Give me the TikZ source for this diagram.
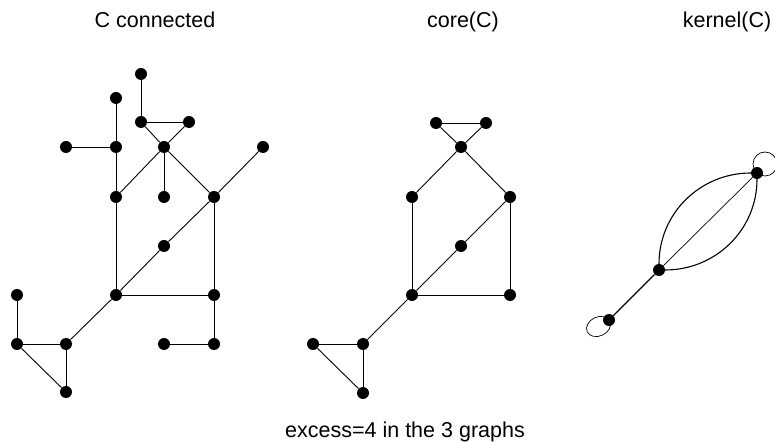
\documentclass[tikz,border=0pt]{standalone}
\usepackage{fontspec}
\setmainfont{Liberation Sans}
\begin{document}
\begin{tikzpicture}[x=1pt,y=1pt,
  dot/.style={circle,fill=black,inner sep=0pt,minimum size=12pt},
  edge/.style={line width=0.9pt,black},
  label/.style={anchor=base,inner sep=0pt,font=\fontsize{21.5}{26}\selectfont}]
\useasboundingbox (0,0) rectangle (775,441);

% titles
\node[label] (t1) at (155,413) {C connected};
\node[label] (t2) at (463,413) {core(C)};
\node[label] (t3) at (727,413) {kernel(C)};
\node[label] (t4) at (405,4) {excess=4 in the 3 graphs};

% connected graph C
\node[dot] (L1) at (141,367) {};
\node[dot] (L2) at (116,343) {};
\node[dot] (L3) at (141,319) {};
\node[dot] (L4) at (189,319) {};
\node[dot] (L5) at (66,294) {};
\node[dot] (L6) at (116,294) {};
\node[dot] (L7) at (164,294) {};
\node[dot] (L8) at (263,294) {};
\node[dot] (L9) at (116,244) {};
\node[dot] (L10) at (164,244) {};
\node[dot] (L11) at (214,244) {};
\node[dot] (L12) at (164,195) {};
\node[dot] (L13) at (17,146) {};
\node[dot] (L14) at (116,146) {};
\node[dot] (L15) at (214,146) {};
\node[dot] (L16) at (17,97) {};
\node[dot] (L17) at (66,97) {};
\node[dot] (L18) at (164,97) {};
\node[dot] (L19) at (214,97) {};
\node[dot] (L20) at (66,49) {};

\draw[edge] (L1) -- (L3);
\draw[edge] (L2) -- (L6);
\draw[edge] (L3) -- (L4);
\draw[edge] (L3) -- (L7);
\draw[edge] (L4) -- (L7);
\draw[edge] (L5) -- (L6);
\draw[edge] (L6) -- (L9);
\draw[edge] (L7) -- (L9);
\draw[edge] (L7) -- (L10);
\draw[edge] (L7) -- (L11);
\draw[edge] (L8) -- (L11);
\draw[edge] (L9) -- (L14);
\draw[edge] (L11) -- (L12);
\draw[edge] (L12) -- (L14);
\draw[edge] (L11) -- (L15);
\draw[edge] (L14) -- (L15);
\draw[edge] (L15) -- (L19);
\draw[edge] (L18) -- (L19);
\draw[edge] (L14) -- (L17);
\draw[edge] (L13) -- (L16);
\draw[edge] (L16) -- (L17);
\draw[edge] (L16) -- (L20);
\draw[edge] (L17) -- (L20);

% core(C)
\node[dot] (M1) at (436,318) {};
\node[dot] (M2) at (486,318) {};
\node[dot] (M3) at (461,294) {};
\node[dot] (M4) at (412,244) {};
\node[dot] (M5) at (510,244) {};
\node[dot] (M6) at (461,195) {};
\node[dot] (M7) at (412,146) {};
\node[dot] (M8) at (510,146) {};
\node[dot] (M9) at (313,97) {};
\node[dot] (M10) at (363,97) {};
\node[dot] (M11) at (363,48) {};

\draw[edge] (M1) -- (M2);
\draw[edge] (M1) -- (M3);
\draw[edge] (M2) -- (M3);
\draw[edge] (M3) -- (M4);
\draw[edge] (M3) -- (M5);
\draw[edge] (M4) -- (M7);
\draw[edge] (M5) -- (M6);
\draw[edge] (M6) -- (M7);
\draw[edge] (M5) -- (M8);
\draw[edge] (M7) -- (M8);
\draw[edge] (M7) -- (M10);
\draw[edge] (M9) -- (M10);
\draw[edge] (M9) -- (M11);
\draw[edge] (M10) -- (M11);

% kernel(C): loops first, so the dots sit on top of them
\draw[edge,line width=0.7pt] ([shift={(8,9)}]757,268) circle[radius=12];
\draw[edge,line width=0.7pt] ([shift={(-10.5,-6.5)}]609,121)
  circle[x radius=12.5,y radius=9.5,rotate=25];

\node[dot] (K1) at (757,268) {};
\node[dot] (K2) at (659,171) {};
\node[dot] (K3) at (609,121) {};

\draw[edge,line width=0.7pt] (K2) -- (K1);
\draw[edge,line width=1.1pt] (K2) to[out=90,in=180] (K1);
\draw[edge,line width=1.1pt] (K2) to[out=0,in=270] (K1);
\draw[edge,line width=1.1pt] (K2) -- (K3);
\end{tikzpicture}
\end{document}
